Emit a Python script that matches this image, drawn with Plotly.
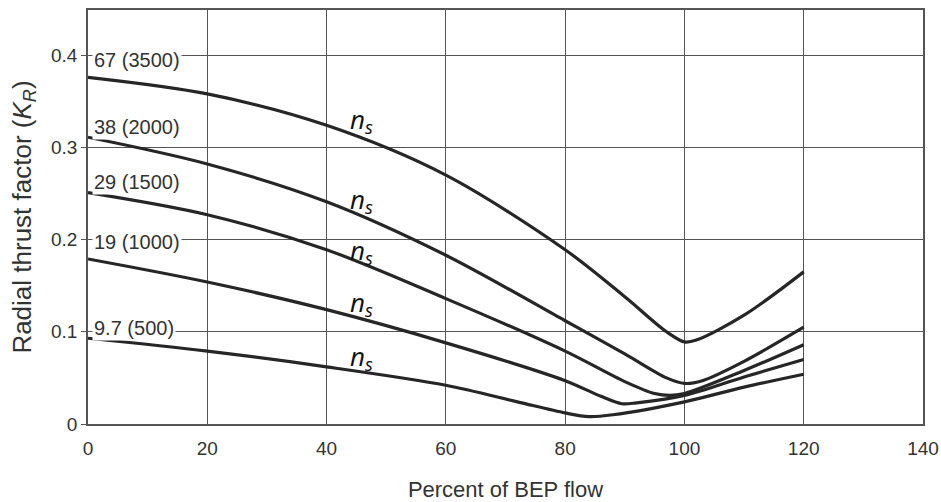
import plotly.graph_objects as go

# Percent of BEP flow (x) and radial thrust factor K_R (y) per specific speed
x_67 = [0, 20, 40, 60, 80, 90, 97, 100, 102, 110, 120]
y_67 = [0.376, 0.358, 0.324, 0.270, 0.189, 0.138, 0.100, 0.089, 0.091, 0.118, 0.165]

x_38 = [0, 20, 40, 60, 80, 90, 97, 100, 103, 110, 120]
y_38 = [0.311, 0.282, 0.241, 0.183, 0.112, 0.076, 0.050, 0.044, 0.047, 0.068, 0.105]

x_29 = [0, 20, 40, 60, 80, 90, 95, 97.5, 100, 110, 120]
y_29 = [0.251, 0.227, 0.189, 0.136, 0.079, 0.046, 0.033, 0.031, 0.033, 0.058, 0.086]

x_19 = [0, 20, 40, 60, 80, 86, 89.5, 92, 100, 110, 120]
y_19 = [0.179, 0.154, 0.124, 0.088, 0.047, 0.030, 0.022, 0.023, 0.031, 0.051, 0.070]

x_97 = [0, 20, 40, 60, 72, 80, 84, 88, 100, 110, 120]
y_97 = [0.093, 0.079, 0.062, 0.042, 0.024, 0.012, 0.008, 0.010, 0.024, 0.040, 0.054]

curve_labels = ["67 (3500)", "38 (2000)", "29 (1500)", "19 (1000)", "9.7 (500)"]
curve_label_y = [0.395, 0.322, 0.262, 0.197, 0.104]
ns_label_y = [0.330, 0.243, 0.188, 0.131, 0.073]

x_ticks = [0, 20, 40, 60, 80, 100, 120, 140]
y_ticks = [0, 0.1, 0.2, 0.3, 0.4]

series = [(x_67, y_67), (x_38, y_38), (x_29, y_29), (x_19, y_19), (x_97, y_97)]

fig = go.Figure()
for xs, ys in series:
    fig.add_trace(go.Scatter(x=xs, y=ys, mode="lines",
                             line=dict(color="#262626", width=3.2, shape="spline", smoothing=0.9),
                             showlegend=False, hoverinfo="skip"))

font_main = "Liberation Sans, Arial, sans-serif"

for lab, yy in zip(curve_labels, curve_label_y):
    fig.add_annotation(x=0.6, y=yy, xref="x", yref="y", text=lab, showarrow=False,
                       xanchor="left", yanchor="middle", bgcolor="white", borderpad=1,
                       font=dict(family=font_main, size=20, color="#333"))

for yy in ns_label_y:
    fig.add_annotation(x=43.6, y=yy, xref="x", yref="y", text="<i>n<sub>s</sub></i>",
                       showarrow=False, xanchor="left", yanchor="middle",
                       font=dict(family="Open Sans, sans-serif", size=26, color="#111"))

fig.update_layout(
    width=941, height=502,
    margin=dict(l=88, r=18, t=10, b=78),
    paper_bgcolor="white", plot_bgcolor="white",
    font=dict(family=font_main, color="#333"),
)
fig.update_xaxes(range=[0, 140], tickvals=x_ticks, showgrid=True, gridcolor="#555", gridwidth=1,
                 showline=True, linecolor="#555", linewidth=1.5, mirror=True, zeroline=False,
                 automargin=False,
                 ticks="", ticklabelstandoff=6, tickfont=dict(size=19, color="#333"),
                 title=dict(text="Percent of BEP flow", font=dict(size=22, color="#333"), standoff=24))
fig.update_yaxes(range=[0, 0.449], tickvals=y_ticks, showgrid=True, gridcolor="#555", gridwidth=1,
                 showline=True, linecolor="#555", linewidth=1.5, mirror=True, zeroline=False,
                 automargin=False,
                 ticks="outside", ticklen=5, tickcolor="#555", tickfont=dict(size=19, color="#333"),
                 title=dict(text="Radial thrust factor (<i>K<sub>R</sub></i>)", font=dict(size=26, color="#333"), standoff=12))

fig.write_html("out.html")
